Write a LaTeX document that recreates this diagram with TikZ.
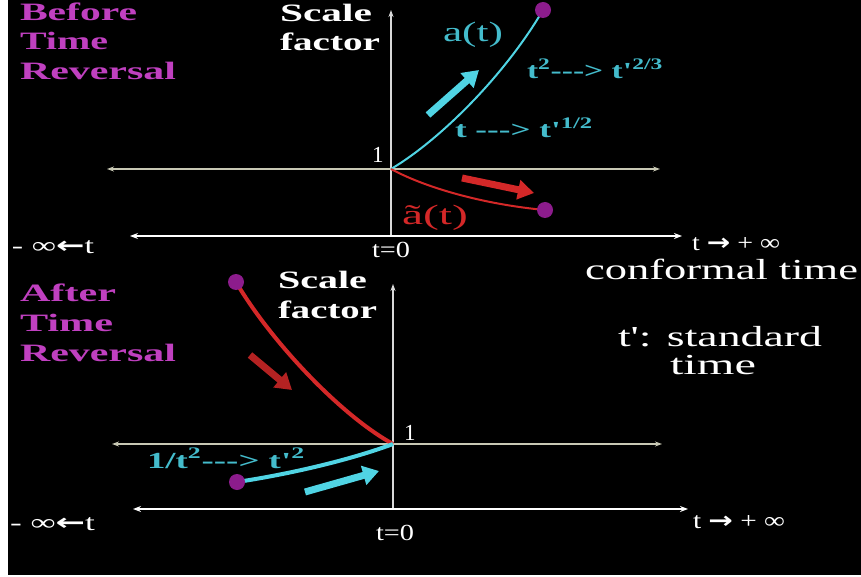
\documentclass[tikz,border=0pt]{standalone}
\usepackage{fontspec}
\usepackage{graphicx}
\setmainfont{Liberation Serif}
\newfontfamily\arrowfont{DejaVu Sans}
\usetikzlibrary{arrows.meta}
\definecolor{purp}{HTML}{C040C0}
\definecolor{cyanl}{HTML}{50D4E4}
\definecolor{cyant}{HTML}{44BCCC}
\definecolor{redl}{HTML}{D42828}
\definecolor{dotp}{HTML}{8C1C8C}
\definecolor{axgray}{HTML}{C8C8B4}
\newcommand{\fitw}[2]{\resizebox{#1}{\height}{#2}}
\newcommand{\lar}{{\arrowfont\bfseries ←}}
\newcommand{\rar}{{\arrowfont\bfseries →}}
\newcommand{\sq}{\textquotesingle}
\begin{document}
\begin{tikzpicture}[x=1pt,y=-1pt,
  lbl/.style={inner sep=0pt, outer sep=0pt, anchor=base west, text=white},
  purptxt/.style={lbl, text=purp, font=\fontsize{25pt}{28pt}\selectfont\bfseries},
  sftxt/.style={lbl, text=white, font=\fontsize{25pt}{28pt}\selectfont\bfseries},
  wtxt/.style={lbl, text=white, font=\fontsize{23pt}{25pt}\selectfont},
  bigtxt/.style={lbl, text=white, font=\fontsize{29pt}{32pt}\selectfont},
  cytxt/.style={lbl, text=cyant, font=\fontsize{23pt}{25pt}\selectfont\bfseries},
  yaxis/.style={draw=white!85!black, line width=1.2pt, -{Stealth[length=7pt,width=5pt]}},
  gaxis/.style={draw=axgray, line width=1.5pt, {Stealth[length=7pt,width=5pt]}-{Stealth[length=7pt,width=5pt]}},
  waxis/.style={draw=white, line width=2pt, {Stealth[length=8pt,width=6pt]}-{Stealth[length=8pt,width=6pt]}},
  cyancurve/.style={draw=cyanl, line width=2pt},
  redcurve/.style={draw=redl, line width=2pt},
  dot/.style={circle, fill=dotp, minimum size=16pt, inner sep=0pt},
  fatarrow/.style={line width=7pt, -{Triangle[length=16pt,width=19pt]}}
]
\useasboundingbox (0,0) rectangle (861,577);
\fill[white] (0,0) rectangle (861,577);
\fill[black] (8,0) rectangle (861,575);

% ---------- top panel ----------
\coordinate (tyb) at (391,236);
\coordinate (tyt) at (391,10);
\coordinate (tgl) at (107,169);
\coordinate (tgr) at (660,169);
\coordinate (twl) at (130,236);
\coordinate (twr) at (682,236);
\coordinate (O1) at (391,169);
\draw[yaxis] (tyb) -- (tyt);
\draw[gaxis] (tgl) -- (tgr);
\draw[waxis] (twl) -- (twr);

\coordinate (p1) at (543,10);
\coordinate (p2) at (545,210);
\draw[cyancurve] (O1) .. controls (440,140) and (505,75) .. (p1);
\draw[redcurve] (O1) .. controls (430,190) and (490,205) .. (p2);
\node[dot] (d1) at (p1) {};
\node[dot] (d2) at (p2) {};

\coordinate (ca1) at (428,115);
\coordinate (ca2) at (479,70);
\draw[fatarrow, draw=cyanl, fill=cyanl] (ca1) -- (ca2);
\coordinate (ra1) at (462,178);
\coordinate (ra2) at (534,193);
\draw[fatarrow, draw=redl, fill=redl] (ra1) -- (ra2);

\node[purptxt] (before) at (20,21) {\fitw{117pt}{Before}};
\node[purptxt] (time1) at (20,50) {\fitw{88pt}{Time}};
\node[purptxt] (rev1) at (20,80) {\fitw{156pt}{Reversal}};
\node[sftxt] (scale1) at (280,22) {\fitw{92pt}{Scale}};
\node[sftxt] (factor1) at (280,51) {\fitw{100pt}{factor}};

\node[lbl, text=cyant, font=\fontsize{28pt}{30pt}\selectfont] (at) at (443,42) {\fitw{60pt}{a(t)}};
\node[cytxt] (f1) at (527,79) {\fitw{136pt}{t\textsuperscript{2}-{}-{}-> t\sq\textsuperscript{2/3}}};
\node[cytxt] (f2) at (455,138) {\fitw{138pt}{t -{}-{}-> t\sq\textsuperscript{1/2}}};
\node[lbl, text=redl, font=\fontsize{28pt}{30pt}\selectfont] (ta) at (402,225) {\fitw{66pt}{ã(t)}};
\node[wtxt] (one1) at (372,163) {1};

\node[wtxt] (minf1) at (12,254) {\fitw{82pt}{- ∞\lar t}};
\node[wtxt] (tz1) at (372,258) {\fitw{38pt}{t=0}};
\node[wtxt] (pinf1) at (692,251) {\fitw{88pt}{t \rar{} + ∞}};
\node[bigtxt] (conf) at (585,279) {\fitw{273pt}{conformal time}};
\node[bigtxt] (std1) at (618,346) {\fitw{204pt}{t\sq: standard}};
\node[bigtxt] (std2) at (670,374) {\fitw{86pt}{time}};

% ---------- bottom panel ----------
\coordinate (byb) at (393,509);
\coordinate (byt) at (393,284);
\coordinate (bgl) at (112,444);
\coordinate (bgr) at (662,444);
\coordinate (bwl) at (133,509);
\coordinate (bwr) at (688,509);
\coordinate (O2) at (393,444);
\draw[yaxis] (byb) -- (byt);
\draw[gaxis] (bgl) -- (bgr);
\draw[waxis] (bwl) -- (bwr);

\coordinate (p3) at (236,282);
\coordinate (p4) at (237,482);
\draw[redcurve, line width=4pt] (p3) .. controls (270,340) and (340,415) .. (O2);
\draw[cyancurve, line width=4pt] (p4) .. controls (290,474) and (350,460) .. (O2);
\node[dot] (d3) at (p3) {};
\node[dot] (d4) at (p4) {};

\coordinate (ra3) at (250,355);
\coordinate (ra4) at (292,390);
\draw[fatarrow, draw=redl!85!black, fill=redl] (ra3) -- (ra4);
\coordinate (ca3) at (305,492);
\coordinate (ca4) at (379,471);
\draw[fatarrow, draw=cyanl, fill=cyanl] (ca3) -- (ca4);

\node[purptxt] (after) at (20,301) {\fitw{96pt}{After}};
\node[purptxt] (time2) at (20,331) {\fitw{93pt}{Time}};
\node[purptxt] (rev2) at (20,361) {\fitw{156pt}{Reversal}};
\node[sftxt] (scale2) at (278,288) {\fitw{89pt}{Scale}};
\node[sftxt] (factor2) at (278,318) {\fitw{99pt}{factor}};

\node[cytxt] (f3) at (147,468) {\fitw{158pt}{1/t\textsuperscript{2}-{}-{}-> t\sq\textsuperscript{2}}};
\node[wtxt] (one2) at (404,440) {1};

\node[wtxt] (minf2) at (10,530) {\fitw{85pt}{- ∞\lar t}};
\node[wtxt] (tz2) at (376,540) {\fitw{38pt}{t=0}};
\node[wtxt] (pinf2) at (693,528) {\fitw{92pt}{t \rar{} + ∞}};
\end{tikzpicture}
\end{document}
